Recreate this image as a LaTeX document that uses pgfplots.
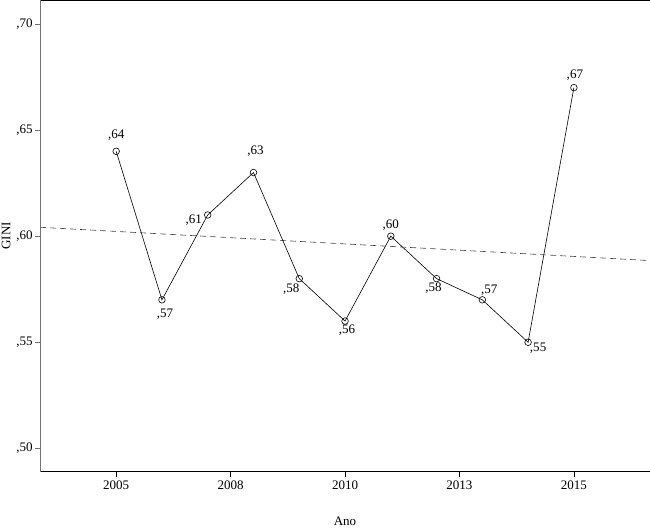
\documentclass[border=0pt]{standalone}
\usepackage{fontspec}
\setmainfont{Liberation Serif}
\usepackage{pgfplots}
\pgfplotsset{compat=1.18}
\usepackage{pgfplotstable}

\pgfplotstableread{
year gini lab dx dy
2005 0.64 ,64 0 16
2006 0.57 ,57 3 -14
2007 0.61 ,61 -14 -5
2008 0.63 ,63 2 21
2009 0.58 ,58 -8 -11
2010 0.56 ,56 2 -9
2011 0.60 ,60 0 11
2012 0.58 ,58 -3 -10
2013 0.57 ,57 7 10
2014 0.55 ,55 10 -6
2015 0.67 ,67 1 12
}\datatable

\begin{document}
\begin{tikzpicture}[font=\fontsize{13}{15}\selectfont]
\begin{axis}[
  name=a,
  scale only axis,
  width=609pt, height=471pt,
  xmin=2003.337, xmax=2016.663,
  ymin=0.489, ymax=0.7113,
  xtick={2005,2007.5,2010,2012.5,2015},
  xticklabels={2005,2008,2010,2013,2015},
  ytick={0.5,0.55,0.6,0.65,0.7},
  yticklabels={{,50},{,55},{,60},{,65},{,70}},
  tick pos=left,
  tick align=outside,
  major tick length=5pt,
  ticklabel style={font=\fontsize{13}{15}\selectfont},
  x tick style={black, line width=0.6pt},
  y tick style={black!55, line width=0.8pt},
  xticklabel style={yshift=-1pt},
  yticklabel style={xshift=1pt},
  axis line style={draw=none},
  xlabel={Ano},
  ylabel={GINI},
  label style={font=\fontsize{13}{15}\selectfont},
  xlabel style={at={(axis description cs:0.5,-0.104)}, anchor=center},
  ylabel style={at={(axis description cs:-0.0558,0.5)}, anchor=center},
  clip=false,
  after end axis/.code={
    \draw[black, line width=0.7pt] (rel axis cs:0,0) -- (rel axis cs:1,0) -- (rel axis cs:1,1) -- (rel axis cs:0,1);
    \draw[black!55, line width=0.9pt] (rel axis cs:0,0) -- (rel axis cs:0,1);
  },
]
\addplot[black!75, line width=0.6pt, dash pattern=on 6pt off 4pt] coordinates {(2003.337,0.6042) (2016.663,0.5885)};
\addplot[black, line width=0.6pt, mark=o, mark size=3.3pt, mark options={solid, fill=white},
  nodes near coords, point meta=explicit symbolic,
  visualization depends on={\thisrow{dx} \as \dx},
  visualization depends on={\thisrow{dy} \as \dy},
  every node near coord/.append style={anchor=center, xshift=\dx pt, yshift=\dy pt, black, inner sep=0pt, font=\fontsize{13}{15}\selectfont}]
  table[x=year, y=gini, meta=lab] {\datatable};
\end{axis}
\pgfresetboundingbox
\path (a.south west) ++(-40pt,-57pt) rectangle (a.north east);
\end{tikzpicture}
\end{document}
